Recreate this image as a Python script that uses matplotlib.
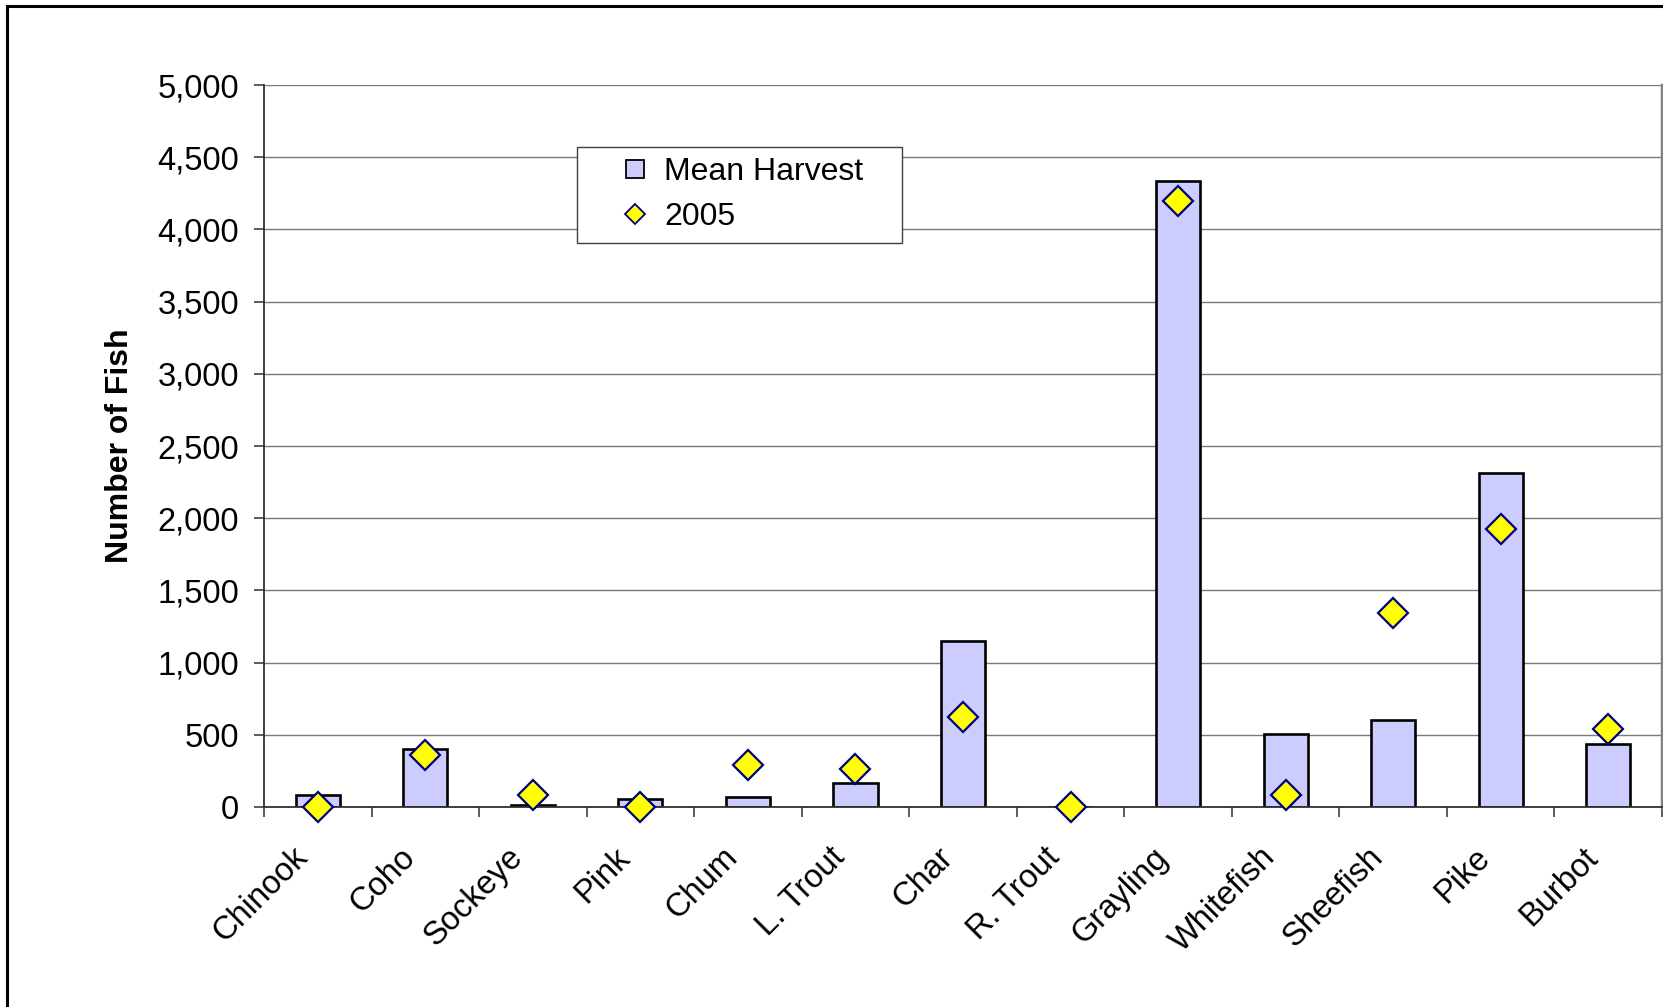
import numpy as np
import matplotlib
matplotlib.use("Agg")
import matplotlib.pyplot as plt
import matplotlib.transforms as mtransforms
from matplotlib.patches import Rectangle
from matplotlib.lines import Line2D
from matplotlib.ticker import FuncFormatter, MultipleLocator

plt.rcParams['font.family'] = ['Liberation Sans', 'DejaVu Sans']

# data
species = ['Chinook', 'Coho', 'Sockeye', 'Pink', 'Chum', 'L. Trout', 'Char',
           'R. Trout', 'Grayling', 'Whitefish', 'Sheefish', 'Pike', 'Burbot']
mean_harvest = [84, 402, 16, 56, 70, 167, 1150, 0, 4337, 505, 600, 2315, 433]
harvest_2005 = [0, 363, 81, 0, 293, 265, 625, 0, 4197, 81, 1346, 1925, 542]

W, H = 1663, 1007
fig = plt.figure(figsize=(W / 100, H / 100), dpi=100)
ax = fig.add_axes([264 / W, 1 - 807 / H, 1398 / W, 722 / H])

x = np.arange(len(species))
ax.bar(x, mean_harvest, width=0.41, color='#CCCCFF', edgecolor='black',
       linewidth=1.9, zorder=2)
ax.plot(x, harvest_2005, linestyle='none', marker='D', markersize=15,
        markerfacecolor='#FFFF00', markeredgecolor='#000080',
        markeredgewidth=1.6, zorder=3, clip_on=False)

ax.set_xlim(-0.5, len(species) - 0.5)
ax.set_ylim(0, 5000)
ax.yaxis.set_major_locator(MultipleLocator(500))
ax.yaxis.set_major_formatter(FuncFormatter(lambda v, p: f'{int(v):,}'))
ax.grid(axis='y', color='#7a7a7a', linewidth=1.0, zorder=0)
ax.set_axisbelow(True)

# category ticks between bars, labels at the centres
ax.set_xticks(x)
ax.set_xticks(np.arange(len(species) + 1) - 0.5, minor=True)
ax.set_xticklabels(species, rotation=45, ha='right', va='top',
                   rotation_mode='anchor', fontsize=23.5)
ax.tick_params(axis='x', which='major', length=0, pad=25)
ax.tick_params(axis='x', which='minor', length=7, width=1.2, color='#404040')
ax.tick_params(axis='y', length=7, width=1.2, color='#404040', labelsize=23.5, pad=11)
shift = mtransforms.ScaledTranslation(-26 / 100, 0, fig.dpi_scale_trans)
for lab in ax.get_xticklabels():
    lab.set_transform(lab.get_transform() + shift)

ax.set_ylabel('Number of Fish', fontsize=23, fontweight='bold')
ax.yaxis.set_label_coords(-0.092, 0.5)

for side in ['left', 'bottom']:
    ax.spines[side].set_color('#303030')
    ax.spines[side].set_linewidth(1.3)
ax.spines['top'].set_visible(False)
ax.spines['right'].set_color('#808080')
ax.spines['right'].set_linewidth(2.5)

# legend box
box = Rectangle((577 / W, 1 - 243 / H), 325 / W, 96 / H, transform=fig.transFigure,
                facecolor='white', edgecolor='#404040', linewidth=1.0, zorder=4)
ax.add_artist(box)
handles = [Line2D([], [], linestyle='none', marker='s', markersize=13,
                  markerfacecolor='#CCCCFF', markeredgecolor='black', markeredgewidth=1.3),
           Line2D([], [], linestyle='none', marker='D', markersize=10,
                  markerfacecolor='#FFFF00', markeredgecolor='#000080', markeredgewidth=1.3)]
leg = ax.legend(handles, ['Mean Harvest', '2005'], loc='upper left',
                bbox_to_anchor=(613 / W, 1 - 151 / H), bbox_transform=fig.transFigure,
                frameon=False, fontsize=23, handlelength=1.0, handletextpad=0.4,
                labelspacing=0.45, borderpad=0.2, borderaxespad=0)
leg.set_zorder(5)

# outer chart border (cut off at right and bottom)
fig.add_artist(Rectangle((7 / W, -0.1), 2, 1 - 6 / H + 0.1, transform=fig.transFigure,
                         fill=False, edgecolor='black', linewidth=2.2))

fig.savefig('out.png', dpi=100)
